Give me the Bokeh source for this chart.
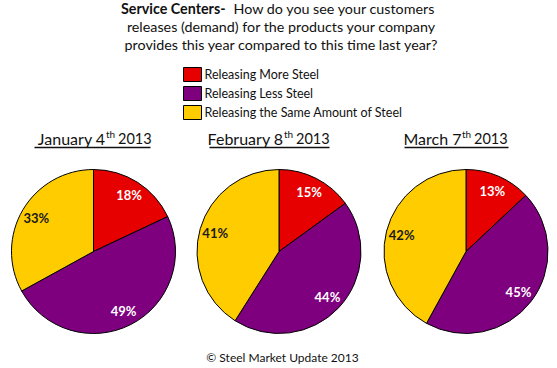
import math
from bokeh.plotting import figure
from bokeh.models import Range1d
from bokeh.embed import file_html
from bokeh.resources import INLINE
from bokeh.core.properties import value

# ---- data ----
dates = ["January 4", "February 8", "March 7"]
date_suffix = ["th", "th", "th"]
year = ["2013", "2013", "2013"]
series = ["Releasing More Steel", "Releasing Less Steel", "Releasing the Same Amount of Steel"]
more = [18, 15, 13]
less = [49, 44, 45]
same = [33, 41, 42]
colors = ["#E60000", "#7F007F", "#FFCC00"]
label_colors = ["white", "white", "#1a1a1a"]

FONT = "Lato"
W, H = 557, 368

p = figure(width=W, height=H, output_backend="svg", toolbar_location=None,
           x_range=Range1d(0, W), y_range=Range1d(0, H), min_border=0)
p.axis.visible = False
p.grid.visible = False
p.outline_line_color = None
p.background_fill_color = "white"
p.border_fill_color = "white"


def Y(sy):
    return H - sy


# ---- title ----
p.text(x=[225], y=[Y(8)], text=["Service Centers-"], text_font=value(FONT),
       text_font_style="bold", text_font_size="14.3px", text_align="right",
       text_baseline="middle", text_color="#111111")
p.text(x=[233], y=[Y(8)], text=["How do you  see your customers"], text_font=value(FONT),
       text_font_size="14.3px", text_align="left", text_baseline="middle", text_color="#111111")
p.text(x=[281, 281], y=[Y(26), Y(44)],
       text=["releases (demand) for the products your company",
             "provides this year compared to this time last year?"],
       text_font=value(FONT), text_font_size="14.3px", text_align="center",
       text_baseline="middle", text_color="#111111")

# ---- legend ----
leg_y = [74, 93, 112]
for i, name in enumerate(series):
    p.quad(left=[183], right=[201], top=[Y(leg_y[i] - 7)], bottom=[Y(leg_y[i] + 7)],
           fill_color=colors[i], line_color="black", line_width=1)
    p.text(x=[204], y=[Y(leg_y[i])], text=[name], text_font=value(FONT),
           text_font_size="12.5px", text_align="left", text_baseline="middle",
           text_color="#111111")

# ---- pies ----
centers_x = [93, 278.5, 465.5]
center_y = 251
R = 82
sup_x = [105, 283, 461]
ul_left = [34, 209, 404]
ul_right = [150, 329, 508]

for k in range(3):
    vals = [more[k], less[k], same[k]]
    tot = float(sum(vals))
    cum = 0.0
    cx, cy = centers_x[k], Y(center_y)
    for i, v in enumerate(vals):
        a0 = math.pi / 2 - 2 * math.pi * (cum + v) / tot
        a1 = math.pi / 2 - 2 * math.pi * cum / tot
        p.wedge(x=[cx], y=[cy], radius=R, start_angle=[a0], end_angle=[a1],
                fill_color=colors[i], line_color="black", line_width=1)
        mid = (a0 + a1) / 2
        lr = 0.81 * R
        p.text(x=[cx + lr * math.cos(mid)], y=[cy + lr * math.sin(mid)],
               text=["%d%%" % v], text_font=value(FONT), text_font_style="bold",
               text_font_size="13px", text_align="center", text_baseline="middle",
               text_color=label_colors[i])
        cum += v
    # pie title with superscript
    p.text(x=[sup_x[k]], y=[Y(137.5)], text=[dates[k]], text_font=value(FONT),
           text_font_size="16px", text_align="right", text_baseline="middle",
           text_color="#111111")
    p.text(x=[sup_x[k] + 0.5], y=[Y(133)], text=[date_suffix[k]], text_font=value(FONT),
           text_font_size="10px", text_align="left", text_baseline="middle",
           text_color="#111111")
    p.text(x=[sup_x[k] + 12.5], y=[Y(137.5)], text=[year[k]], text_font=value(FONT),
           text_font_size="14.5px", text_align="left", text_baseline="middle",
           text_color="#111111")
    p.segment(x0=[ul_left[k]], x1=[ul_right[k]], y0=[Y(147)], y1=[Y(147)],
              line_color="#111111", line_width=1.3)

# ---- footer ----
p.text(x=[282], y=[Y(357)], text=["\u00a9 Steel Market Update 2013"], text_font=value(FONT),
       text_font_size="12px", text_align="center", text_baseline="middle",
       text_color="#111111")

open("out.html", "w").write(file_html(p, INLINE))
